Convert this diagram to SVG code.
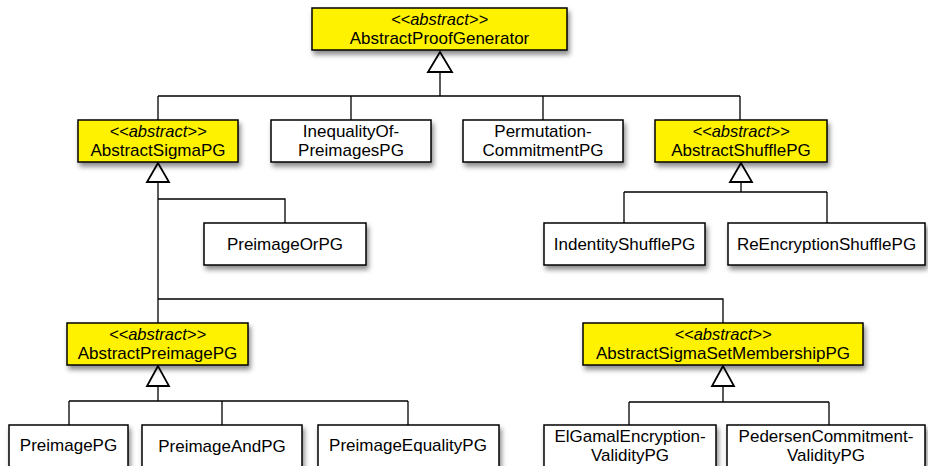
<svg xmlns="http://www.w3.org/2000/svg" width="928" height="466" viewBox="0 0 928 466">
  <defs>
    <filter id="shadow" x="-10%" y="-20%" width="130%" height="160%">
      <feDropShadow dx="2" dy="4" stdDeviation="2.5" flood-color="#000" flood-opacity="0.45"/>
    </filter>
  </defs>
  <style>
    .box { stroke: #000; stroke-width: 1.5; filter: url(#shadow); }
    .abs { fill: #fff200; }
    .cls { fill: #fff; }
    text { font-family: "Liberation Sans", Arial, sans-serif; font-size: 17px; fill: #000; text-anchor: middle; }
    .st { font-style: italic; font-size: 16.5px; }
    .edge { fill: none; stroke: #000; stroke-width: 1.3; }
    .head { fill: #fff; stroke: #000; stroke-width: 1.8; stroke-linejoin: miter; }
  </style>
  <rect width="928" height="466" fill="#fff"/>

  <!-- generalization connectors -->
  <g id="connectors">
    <path class="edge" d="M440 72 V96 M158 96 H740 M158 96 V120 M351 96 V120 M543 96 V120 M740 96 V120"/>
    <path class="edge" d="M158 182 V323 M158 199 H285 V223 M158 299 H723 V323"/>
    <path class="edge" d="M741 182 V192 M624 192 H827 M624 192 V223 M827 192 V223"/>
    <path class="edge" d="M158 386 V401 M69 401 H408 M69 401 V425 M222 401 V425 M408 401 V425"/>
    <path class="edge" d="M723 386 V402 M629 402 H829 M629 402 V425 M829 402 V425"/>
    <polygon class="head" points="440,52 428,72 452,72"/>
    <polygon class="head" points="158,163 147,182 169,182"/>
    <polygon class="head" points="741,163 730,182 752,182"/>
    <polygon class="head" points="158,366 147,386 169,386"/>
    <polygon class="head" points="723,366 712,386 734,386"/>
  </g>

  <g id="AbstractProofGenerator">
    <rect class="box abs" x="312" y="8" width="255" height="42"/>
    <text class="st" x="439.5" y="24.5">&lt;&lt;abstract&gt;&gt;</text>
    <text x="439.5" y="44">AbstractProofGenerator</text>
  </g>

  <g id="AbstractSigmaPG">
    <rect class="box abs" x="78" y="120" width="160" height="42"/>
    <text class="st" x="158" y="136.5">&lt;&lt;abstract&gt;&gt;</text>
    <text x="158" y="155.5">AbstractSigmaPG</text>
  </g>

  <g id="InequalityOfPreimagesPG">
    <rect class="box cls" x="271" y="120" width="160" height="42"/>
    <text x="351" y="136.5">InequalityOf-</text>
    <text x="351" y="155.5">PreimagesPG</text>
  </g>

  <g id="PermutationCommitmentPG">
    <rect class="box cls" x="463" y="120" width="160" height="42"/>
    <text x="543" y="136.5">Permutation-</text>
    <text x="543" y="155.5">CommitmentPG</text>
  </g>

  <g id="AbstractShufflePG">
    <rect class="box abs" x="655" y="120" width="172" height="42"/>
    <text class="st" x="741" y="136.5">&lt;&lt;abstract&gt;&gt;</text>
    <text x="741" y="155.5">AbstractShufflePG</text>
  </g>

  <g id="PreimageOrPG">
    <rect class="box cls" x="204" y="223" width="162" height="42"/>
    <text x="285" y="250">PreimageOrPG</text>
  </g>

  <g id="IndentityShufflePG">
    <rect class="box cls" x="544" y="223" width="161" height="42"/>
    <text x="624.5" y="250">IndentityShufflePG</text>
  </g>

  <g id="ReEncryptionShufflePG">
    <rect class="box cls" x="728" y="223" width="197" height="42"/>
    <text x="826.5" y="250">ReEncryptionShufflePG</text>
  </g>

  <g id="AbstractPreimagePG">
    <rect class="box abs" x="67" y="323" width="181" height="42"/>
    <text class="st" x="157.5" y="339.5">&lt;&lt;abstract&gt;&gt;</text>
    <text x="157.5" y="358.5">AbstractPreimagePG</text>
  </g>

  <g id="AbstractSigmaSetMembershipPG">
    <rect class="box abs" x="583" y="323" width="280" height="42"/>
    <text class="st" x="723" y="339.5">&lt;&lt;abstract&gt;&gt;</text>
    <text x="723" y="358.5">AbstractSigmaSetMembershipPG</text>
  </g>

  <g id="PreimagePG">
    <rect class="box cls" x="9" y="425" width="119" height="42"/>
    <text x="68.5" y="451">PreimagePG</text>
  </g>

  <g id="PreimageAndPG">
    <rect class="box cls" x="142" y="425" width="160" height="42"/>
    <text x="222" y="452">PreimageAndPG</text>
  </g>

  <g id="PreimageEqualityPG">
    <rect class="box cls" x="318" y="425" width="181" height="42"/>
    <text x="408" y="451">PreimageEqualityPG</text>
  </g>

  <g id="ElGamalEncryptionValidityPG">
    <rect class="box cls" x="544" y="425" width="172" height="42"/>
    <text x="630" y="441.5">ElGamalEncryption-</text>
    <text x="630" y="461">ValidityPG</text>
  </g>

  <g id="PedersenCommitmentValidityPG">
    <rect class="box cls" x="727" y="425" width="198" height="42"/>
    <text x="826" y="441.5">PedersenCommitment-</text>
    <text x="826" y="461">ValidityPG</text>
  </g>
</svg>
